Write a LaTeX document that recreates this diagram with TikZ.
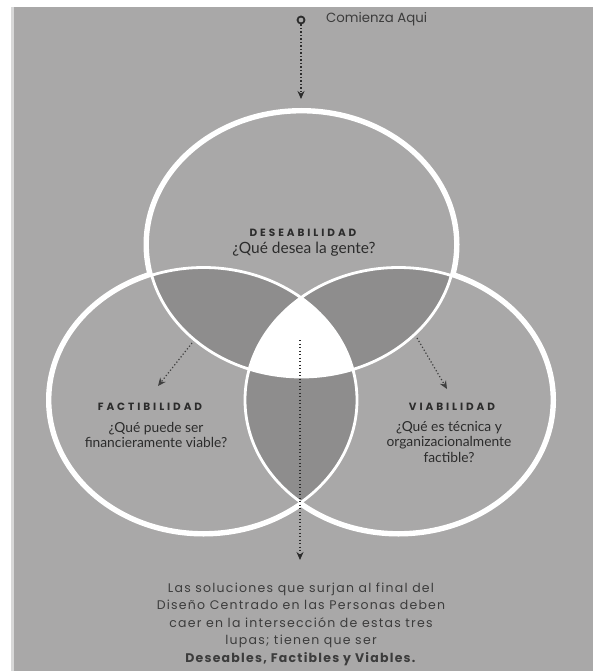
\documentclass[tikz,border=0pt]{standalone}
\usepackage{fontspec}
\setmainfont{Lato}
\newfontfamily\popfont{Poppins}
\newfontfamily\bottomfont[LetterSpace=10]{Poppins}
\newfontfamily\headfont[LetterSpace=28]{Poppins}
\usetikzlibrary{arrows.meta}
\definecolor{bggray}{HTML}{A9A8A8}
\definecolor{lensgray}{HTML}{8E8D8D}
\definecolor{txt}{HTML}{2C2C2C}
\definecolor{softtxt}{HTML}{3C3C3C}
\newcommand\ellT{(301.5,244.5) ellipse [x radius=154, y radius=132.5]}
\newcommand\ellL{(203.5,400) ellipse [x radius=153.5, y radius=132.5]}
\newcommand\ellR{(398.5,400) ellipse [x radius=153.5, y radius=132.5]}
\tikzset{
  headtext/.style={text=txt, font=\headfont\bfseries\fontsize{10.5}{11}\selectfont, inner sep=0},
  qtext/.style={text=txt, align=center, inner sep=0, font=\fontsize{13.8}{15.8}\selectfont},
  dotarrow/.style={draw=txt, line width=1.3pt, dash pattern=on 1.3pt off 2.2pt, -{Stealth[length=8pt,width=7pt]}},
  softarrow/.style={draw=txt!85!bggray, line width=1.2pt, dash pattern=on 1.2pt off 2.2pt, -{Stealth[length=8pt,width=7pt]}}
}
\begin{document}
\begin{tikzpicture}[x=1pt,y=-1pt]
\useasboundingbox (0,0) rectangle (593,671);
\fill[white] (0,0) rectangle (593,671);
\fill[bggray] (11,7) rectangle (593,671);
\fill[white!55!bggray] (11,7) rectangle (14,671);
% circles
\draw[white, line width=8pt] \ellT \ellL \ellR;
\fill[bggray] \ellT \ellL \ellR;
\begin{scope}
  \clip \ellT;
  \fill[lensgray] \ellL \ellR;
\end{scope}
\begin{scope}
  \clip \ellL;
  \fill[lensgray] \ellR;
\end{scope}
\begin{scope}
  \clip \ellT;
  \clip \ellL;
  \fill[white] \ellR;
\end{scope}
\draw[white, line width=2.8pt] \ellT \ellL \ellR;
% start
\node[circle, draw=txt, line width=1.8pt, inner sep=0, minimum size=7pt] (start) at (301,20) {};
\node[text=softtxt, font=\popfont\fontsize{13.3}{14}\selectfont, anchor=west, inner sep=0] (comienza) at (326,19) {Comienza Aqui};
\coordinate (toptip) at (301,99);
\draw[dotarrow] (start) -- (toptip);
% labels
\node[headtext] (desh) at (303,233) {DESEABILIDAD};
\node[qtext, font=\fontsize{15.5}{17}\selectfont] (desq) at (304,249) {¿Qué desea la gente?};
\node[headtext] (fach) at (150,407) {FACTIBILIDAD};
\node[qtext] (facq) at (156,435) {¿Qué puede ser\\financieramente viable?};
\node[headtext] (viah) at (452,407) {VIABILIDAD};
\node[qtext] (viaq) at (449,442) {¿Qué es técnica y\\organizacionalmente\\factible?};
% arrows
\coordinate (ls) at (192,343);
\coordinate (le) at (158,386);
\draw[softarrow] (ls) -- (le);
\coordinate (rs) at (417,338);
\coordinate (re) at (447,389);
\draw[softarrow] (rs) -- (re);
\coordinate (cs) at (300,340);
\coordinate (ce) at (300,560);
\draw[dotarrow] (cs) -- (ce);
% bottom text
\node[text=softtxt, align=center, inner sep=0, font=\bottomfont\fontsize{12.5}{17.5}\selectfont] (bottom) at (301,624)
  {Las soluciones que surjan al final del\\Diseño Centrado en las Personas deben\\caer en la intersección de estas tres\\lupas; tienen que ser\\\textbf{Deseables, Factibles y Viables.}};
\end{tikzpicture}
\end{document}
